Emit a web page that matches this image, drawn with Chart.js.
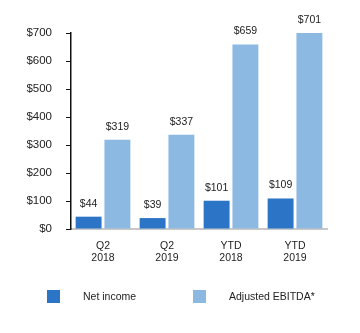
<!DOCTYPE html>
<html>
<head>
<meta charset="utf-8">
<script src="https://cdn.jsdelivr.net/npm/chart.js@4/dist/chart.umd.min.js"></script>
<style>
html,body{margin:0;padding:0;background:#fff;}
#wrap{position:relative;width:360px;height:333px;}
</style>
</head>
<body>
<div id="wrap"><canvas id="c" width="360" height="333"></canvas></div>
<script>
const categories = [["Q2","2018"],["Q2","2019"],["YTD","2018"],["YTD","2019"]];
const netIncome = [44, 39, 101, 109];
const adjustedEbitda = [319, 337, 659, 701];
const seriesNames = ["Net income", "Adjusted EBITDA*"];
const seriesColors = ["#2b74c6", "#8bb9e2"];
const yTicks = [0,100,200,300,400,500,600,700];

const FONT = "'Liberation Sans', Arial, Helvetica, sans-serif";

const valueLabels = {
  id: 'valueLabels',
  afterDatasetsDraw(chart) {
    const ctx = chart.ctx;
    ctx.save();
    ctx.font = "10.5px " + FONT;
    ctx.fillStyle = "#222";
    ctx.textAlign = "center";
    ctx.textBaseline = "middle";
    chart.data.datasets.forEach((ds, di) => {
      const meta = chart.getDatasetMeta(di);
      meta.data.forEach((bar, i) => {
        ctx.fillText("$" + ds.data[i], bar.x, bar.y - 13);
      });
    });
    ctx.restore();
  }
};

const bottomLegend = {
  id: 'bottomLegend',
  afterDraw(chart) {
    const ctx = chart.ctx;
    const boxX = [47, 193];
    const textX = [83, 229];
    const y = 290;
    ctx.save();
    ctx.font = "10.5px " + FONT;
    ctx.textBaseline = "middle";
    ctx.textAlign = "left";
    chart.data.datasets.forEach((ds, di) => {
      ctx.fillStyle = ds.backgroundColor;
      ctx.fillRect(boxX[di], y, 13, 13);
      ctx.fillStyle = "#222";
      ctx.fillText(ds.label, textX[di], y + 7);
    });
    ctx.restore();
  }
};

new Chart(document.getElementById('c'), {
  type: 'bar',
  data: {
    labels: categories,
    datasets: [
      { label: seriesNames[0], data: netIncome, backgroundColor: seriesColors[0] },
      { label: seriesNames[1], data: adjustedEbitda, backgroundColor: seriesColors[1] }
    ]
  },
  options: {
    responsive: false,
    animation: false,
    devicePixelRatio: 1,
    layout: { padding: { top: 33, right: 33, bottom: 64, left: 0 } },
    plugins: { legend: { display: false }, tooltip: { enabled: false } },
    datasets: { bar: { categoryPercentage: 0.9, barPercentage: 0.9 } },
    scales: {
      x: {
        grid: { display: false, drawTicks: false },
        border: { display: true, color: "#c8c8c8", width: 2 },
        ticks: { color: "#222", font: { family: FONT, size: 10.5, lineHeight: 1.15 }, padding: 11, maxRotation: 0 },
        afterFit(scale) { scale.height = 40; }
      },
      y: {
        min: 0, max: 700,
        afterBuildTicks(scale) { scale.ticks = yTicks.map(v => ({ value: v })); },
        grid: { display: true, drawOnChartArea: false, drawTicks: true, tickLength: 5, color: "#111", lineWidth: 1 },
        border: { display: true, color: "#111", width: 1.5 },
        ticks: { color: "#222", font: { family: FONT, size: 11.5 }, padding: 14, callback: v => "$" + v },
        afterFit(scale) { scale.width = 71; }
      }
    }
  },
  plugins: [valueLabels, bottomLegend]
});
</script>
</body>
</html>
